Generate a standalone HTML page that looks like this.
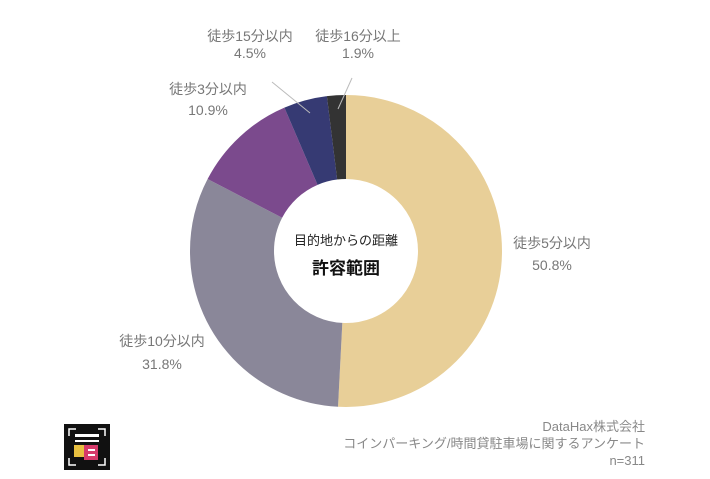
<!DOCTYPE html>
<html><head><meta charset="utf-8"><style>
body{margin:0;background:#fff;width:710px;height:474px;overflow:hidden;font-family:"Liberation Sans","Noto Sans CJK JP",sans-serif}
svg text{font-family:"Liberation Sans","Noto Sans CJK JP",sans-serif}
</style></head><body>
<svg width="710" height="474" viewBox="0 0 710 474">
<g transform="rotate(-90 346 251)" fill="none" stroke-width="84">
<circle cx="346" cy="251" r="114" stroke="#e8cf98" stroke-dasharray="363.87 716.28" stroke-dashoffset="0"/>
<circle cx="346" cy="251" r="114" stroke="#8a8799" stroke-dasharray="227.78 716.28" stroke-dashoffset="-363.87"/>
<circle cx="346" cy="251" r="114" stroke="#7b4a8d" stroke-dasharray="78.07 716.28" stroke-dashoffset="-591.65"/>
<circle cx="346" cy="251" r="114" stroke="#363a73" stroke-dasharray="32.23 716.28" stroke-dashoffset="-669.72"/>
<circle cx="346" cy="251" r="114" stroke="#333333" stroke-dasharray="14.6 716.28" stroke-dashoffset="-701.95"/>
</g>
<line x1="310" y1="113" x2="272" y2="82" stroke="#bbb" stroke-width="1"/>
<line x1="338" y1="109" x2="352" y2="78" stroke="#bbb" stroke-width="1"/>
<g fill="#777" font-size="14" text-anchor="middle">
<text x="250" y="41">徒歩15分以内</text><text x="250" y="58">4.5%</text>
<text x="358" y="41">徒歩16分以上</text><text x="358" y="58">1.9%</text>
<text x="208" y="94">徒歩3分以内</text><text x="208" y="115">10.9%</text>
<text x="552" y="248">徒歩5分以内</text><text x="552" y="270">50.8%</text>
<text x="162" y="346">徒歩10分以内</text><text x="162" y="369">31.8%</text>
</g>
<text x="346" y="245" font-size="13" fill="#222" text-anchor="middle">目的地からの距離</text>
<text x="346" y="274" font-size="17" font-weight="bold" fill="#111" text-anchor="middle">許容範囲</text>
<g fill="#888" font-size="13" text-anchor="end">
<text x="645" y="431">DataHax株式会社</text>
<text x="645" y="448">コインパーキング/時間貸駐車場に関するアンケート</text>
<text x="645" y="465">n=311</text>
</g>
<rect x="64" y="424" width="46" height="46" fill="#111"/>
<path d="M69 436v-7h7M98 429h7v7M105 458v7h-7M76 465h-7v-7" stroke="#fff" stroke-width="1.5" fill="none"/>
<rect x="75" y="434" width="24" height="3" fill="#fff"/>
<rect x="75" y="440" width="24" height="2" fill="#fff"/>
<rect x="74" y="445" width="12" height="12" fill="#e8c040"/>
<rect x="84" y="445" width="14" height="15" fill="#d63a6a"/>
<rect x="88" y="449" width="7" height="2" fill="#fff"/>
<rect x="88" y="454" width="7" height="2" fill="#fff"/>
</svg>
</body></html>
